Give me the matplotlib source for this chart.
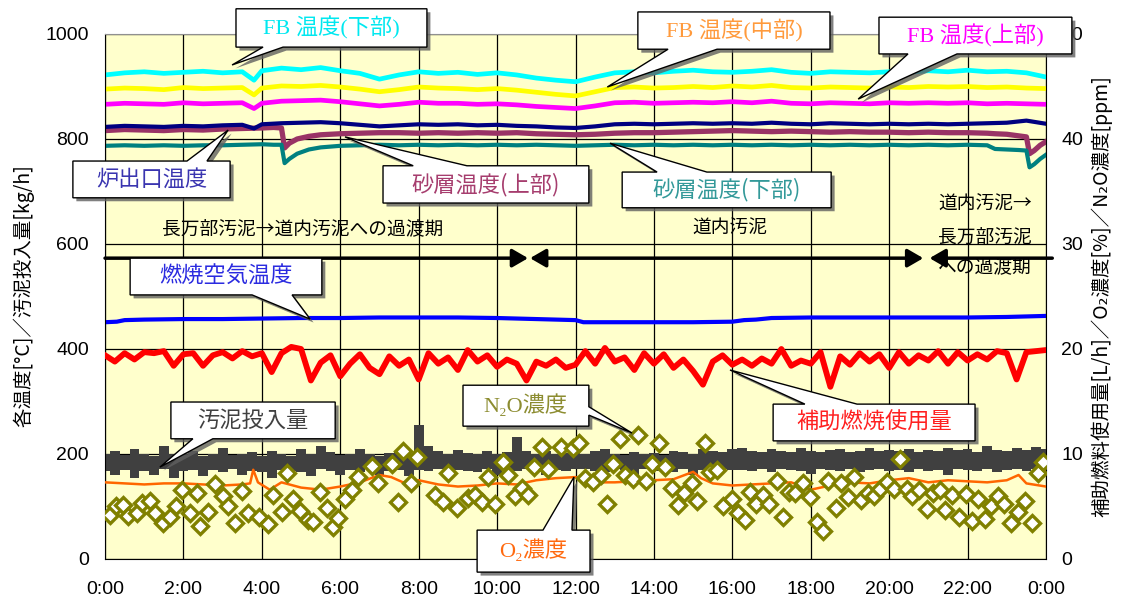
import numpy as np
import matplotlib
matplotlib.use('Agg')
import matplotlib.pyplot as plt
import matplotlib.patheffects as pe
from matplotlib.patches import Polygon

plt.rcParams['font.family'] = ['Liberation Sans', 'Noto Sans CJK JP', 'DejaVu Sans']
JP = ['Noto Sans CJK JP', 'DejaVu Sans']
SERIF_JP = ['Liberation Serif', 'Noto Sans CJK JP', 'DejaVu Sans']

# ---- data (hours from 0:00, left axis degC / kg/h, right axis L/h, %, ppm) ----
t_fb = [0, 0.5, 1, 1.5, 2, 2.5, 3, 3.5, 3.8, 4, 4.5, 5, 5.5, 6, 6.5, 7, 7.5, 8, 8.5, 9, 9.5,
        10, 10.5, 11, 11.5, 12, 12.5, 13, 13.5, 14, 14.5, 15, 15.5, 16, 16.5, 17, 17.5,
        18, 18.5, 19, 19.5, 20, 20.5, 21, 21.5, 22, 22.5, 23, 23.5, 24]
fb_lower = [922, 926, 928, 925, 927, 929, 926, 928, 912, 930, 935, 932, 936, 930, 925, 914, 922,
            928, 925, 927, 923, 926, 922, 916, 912, 909, 918, 926, 928, 926, 929, 931, 928, 927,
            929, 932, 927, 925, 928, 927, 926, 928, 927, 930, 928, 931, 928, 929, 926, 918]
fb_middle = [895, 897, 896, 894, 898, 896, 897, 898, 884, 897, 901, 900, 902, 899, 895, 890, 894,
             899, 897, 896, 894, 896, 893, 889, 885, 882, 890, 898, 899, 897, 898, 900, 898, 901,
             899, 902, 898, 897, 899, 898, 897, 899, 898, 900, 899, 900, 898, 899, 897, 896]
fb_upper = [866, 868, 867, 866, 869, 867, 868, 869, 858, 868, 872, 873, 874, 871, 867, 863, 866,
            870, 868, 868, 866, 867, 865, 862, 860, 858, 863, 869, 870, 868, 869, 870, 869, 871,
            869, 872, 868, 867, 869, 868, 867, 869, 868, 869, 868, 869, 867, 868, 867, 866]
furnace_out = [823, 825, 824, 823, 825, 824, 826, 827, 820, 828, 830, 831, 832, 830, 827, 824, 826,
               828, 827, 828, 826, 827, 825, 824, 822, 821, 824, 828, 829, 828, 829, 830, 829, 830,
               829, 831, 829, 828, 830, 829, 828, 829, 828, 829, 828, 829, 830, 831, 835, 829]

t_sand = [0, 0.5, 1, 1.5, 2, 2.5, 3, 3.5, 4, 4.3, 4.5, 4.58, 4.7, 4.9, 5.2, 5.5,
          6, 6.5, 7, 7.5, 8, 8.5, 9, 9.5, 10, 10.5, 11, 11.5, 12, 12.5, 13, 13.5, 14, 14.5,
          15, 15.5, 16, 16.5, 17, 17.5, 18, 18.5, 19, 19.5, 20, 20.5, 21, 21.5, 22, 22.5,
          22.7, 23, 23.3, 23.5, 23.58, 23.7, 23.85, 24]
sand_upper = [816, 818, 817, 816, 818, 817, 819, 820, 821, 822, 821, 783, 792, 800, 805, 808,
              810, 811, 812, 812, 811, 812, 811, 812, 811, 812, 810, 809, 808, 809, 811, 812, 812, 813,
              814, 815, 816, 815, 814, 815, 814, 813, 814, 813, 813, 812, 813, 812, 812, 811,
              810, 809, 806, 804, 772, 778, 788, 795]
sand_lower = [787, 788, 787, 788, 787, 788, 788, 789, 790, 789, 789, 754, 762, 772, 780, 784,
              787, 788, 789, 788, 789, 788, 789, 788, 789, 788, 789, 788, 787, 788, 789, 788, 789, 788,
              789, 788, 789, 788, 789, 788, 789, 788, 789, 788, 789, 788, 789, 788, 789, 788,
              781, 780, 779, 778, 746, 752, 762, 770]

t_air = [0, 0.3, 0.5, 1, 2, 3, 4, 5, 6, 7, 8, 9, 10, 10.5, 11, 11.5, 12, 12.2, 13, 14, 15, 16,
         16.3, 16.6, 17, 18, 19, 20, 21, 22, 23, 24]
air_temp = [451, 452, 455, 456, 457, 457, 458, 459, 459, 460, 460, 460, 459, 458, 457, 456, 455,
            451, 451, 451, 451, 452, 455, 456, 459, 460, 460, 460, 460, 460, 461, 463]

# 15-minute samples
t_q = np.linspace(0, 24, 97)
fuel = [19.4, 18.8, 19.6, 19.0, 19.7, 19.6, 19.8, 18.4, 19.5, 19.6, 18.4, 19.4, 19.7, 19.1, 19.8, 19.3,
        19.6, 17.8, 19.6, 20.2, 20.0, 17.0, 18.7, 19.4, 17.4, 18.6, 19.5, 18.2, 17.6, 19.3, 18.4, 19.0,
        17.1, 19.6, 18.6, 19.2, 18.0, 19.9, 18.8, 19.4, 18.3, 19.0, 18.6, 17.0, 18.8, 18.4, 19.0, 18.2,
        18.5, 19.8, 18.6, 20.1, 18.8, 19.2, 18.0, 19.6, 18.6, 19.5, 18.2, 19.0, 17.9, 16.6, 18.8, 19.4,
        18.5, 19.0, 18.4, 19.1, 18.6, 20.0, 18.4, 18.9, 18.6, 19.7, 16.4, 19.3, 18.5, 19.6, 18.8, 19.5,
        18.2, 19.7, 18.6, 19.4, 18.9, 19.8, 18.6, 19.7, 18.9, 19.5, 19.0, 19.8, 19.6, 17.1, 19.7, 19.8,
        19.9]
sludge_hi = [200, 205, 198, 210, 200, 196, 215, 200, 198, 205, 196, 200, 212, 198, 200, 203, 196,
             206, 200, 197, 210, 200, 215, 204, 198, 200, 210, 200, 196, 202, 206, 200, 255,
             215, 205, 200, 208, 202, 200, 206, 200, 203, 232, 205, 200, 206, 200, 202, 204,
             200, 205, 210, 200, 198, 204, 200, 202, 198, 206, 204, 200, 210, 205, 203, 210,
             212, 206, 204, 210, 206, 203, 212, 206, 204, 208, 210, 204, 206, 212, 205, 208,
             206, 210, 204, 208, 206, 212, 208, 210, 204, 215, 208, 206, 212, 208, 214, 210]
sludge_lo = [168, 160, 170, 155, 168, 160, 172, 155, 168, 170, 158, 170, 165, 172, 160, 168, 165,
             155, 170, 168, 165, 158, 172, 168, 160, 170, 165, 172, 160, 168, 170, 158, 170,
             168, 172, 160, 170, 168, 165, 172, 160, 170, 168, 172, 165, 160, 170, 168, 172,
             172, 168, 165, 172, 170, 160, 172, 168, 170, 165, 172, 160, 170, 168, 172, 170,
             170, 168, 172, 165, 172, 170, 168, 162, 172, 170, 168, 172, 165, 170, 172, 168,
             170, 165, 172, 168, 170, 160, 172, 170, 168, 172, 165, 170, 172, 168, 172, 175]

t_o2 = [0, 0.5, 1, 1.5, 2, 2.5, 3, 3.5, 3.7, 3.78, 3.9, 4.2, 4.5, 5, 5.5, 6, 6.5, 7, 7.3, 7.6,
        8, 8.5, 9, 9.5, 10, 10.5, 11, 11.5, 12, 12.5, 13, 13.5, 14, 14.5, 15, 15.2, 15.5, 16,
        16.5, 17, 17.5, 18, 18.5, 19, 19.5, 20, 20.5, 21, 21.5, 22, 22.5, 23, 23.3, 23.5, 24]
o2 = [7.3, 7.2, 7.1, 7.2, 7.2, 7.1, 7.0, 7.1, 7.2, 8.5, 7.3, 6.6, 7.3, 6.8, 6.6, 6.9, 7.3, 8.0,
      7.8, 7.3, 7.5, 7.1, 6.9, 7.0, 7.2, 7.1, 7.5, 7.7, 7.8, 7.3, 7.3, 7.4, 7.5, 7.6, 8.3, 7.7,
      7.2, 7.0, 7.1, 7.2, 7.3, 6.6, 7.0, 7.3, 7.2, 7.5, 7.7, 7.3, 7.5, 7.4, 7.3, 7.5, 8.0, 7.2, 6.9]

t_n2o = [0.13, 0.28, 0.46, 0.59, 0.82, 0.94, 1.15, 1.28, 1.48, 1.66, 1.81, 1.96, 2.17, 2.35, 2.42,
         2.63, 2.81, 3.01, 3.14, 3.32, 3.49, 3.65, 3.93, 4.16, 4.29, 4.52, 4.64, 4.80, 4.97, 5.18,
         5.31, 5.48, 5.66, 5.82, 5.94,
         6.12, 6.30, 6.45, 6.81, 6.96, 7.32, 7.47, 7.60, 7.81, 7.96, 8.42, 8.62, 8.75, 8.98, 9.26,
         9.44, 9.62, 9.77, 9.95, 10.15, 10.28, 10.46, 10.64, 10.79, 10.94, 11.15, 11.30, 11.63,
         11.94, 12.09, 12.24, 12.45, 12.65, 12.81, 12.96, 13.14, 13.27, 13.47, 13.60, 13.80, 13.95,
         14.13, 14.29, 14.46, 14.62, 14.77, 14.97, 15.10, 15.31, 15.43, 15.61, 15.77, 16.0, 16.15,
         16.33, 16.45, 16.61, 16.79, 16.94, 17.14, 17.30, 17.45, 17.60, 17.81,
         17.98, 18.16, 18.32, 18.44, 18.65, 18.78, 18.95, 19.11, 19.29, 19.46, 19.62, 19.77, 19.95,
         20.13, 20.28, 20.46, 20.59, 20.77, 20.97, 21.12, 21.30, 21.43, 21.61, 21.79, 21.96, 22.12,
         22.27, 22.45, 22.60, 22.78, 22.93, 23.11, 23.29, 23.47, 23.65, 23.80, 23.93]
n2o = [4.2, 5.0, 5.1, 4.1, 4.4, 5.3, 5.5, 4.4, 3.4, 4.0, 5.0, 6.6, 4.4, 6.3, 3.1, 4.5, 7.1, 6.0,
       5.0, 3.4, 6.5, 4.4, 4.0, 3.3, 6.1, 4.5, 8.2, 5.7, 4.6, 3.7, 3.5, 6.4, 4.9, 3.0, 3.9,
       5.7, 6.6, 7.8, 8.9, 7.2, 9.0, 5.4, 10.3, 7.2, 9.7, 6.1, 5.4, 8.2, 4.9, 5.8, 6.1, 5.4, 7.8,
       5.2, 9.2, 8.0, 6.0, 6.8, 6.1, 8.8, 10.7, 8.6, 10.7,
       10.6, 11.0, 7.7, 7.3, 8.0, 5.2, 9.0, 11.4, 8.0, 7.6, 11.8, 7.4, 9.0, 11.0, 8.8, 6.8, 5.1,
       6.3, 7.2, 5.5, 11.0, 8.3, 8.5, 5.0, 5.7, 4.4, 3.7, 6.4, 5.2, 6.1, 5.2, 7.4, 4.0, 6.4, 6.3, 7.2,
       5.9, 3.5, 2.7, 7.4, 4.9, 7.2, 5.9, 7.8, 5.6, 6.3, 6.0, 6.7, 7.3, 6.7, 9.5, 6.7, 6.0, 6.6,
       4.8, 6.3, 6.6, 4.7, 6.1, 4.0, 6.2, 3.6, 5.7, 3.8, 5.0, 6.0, 5.2, 3.4, 4.5, 5.5, 3.4, 8.2, 9.2]

xtick_labels = ['0:00', '2:00', '4:00', '6:00', '8:00', '10:00', '12:00', '14:00', '16:00',
                '18:00', '20:00', '22:00', '0:00']

# ---- figure ----
fig = plt.figure(figsize=(11.21, 6.08), dpi=100)
ax = fig.add_axes([0.0937, 0.0806, 0.8394, 0.8635])
ax.set_facecolor('#FFFFCC')
ax.set_axisbelow(True)
ax2 = ax.twinx()

ax.plot(t_fb, fb_lower, color='#00FFFF', lw=3.4)
ax.plot(t_fb, fb_middle, color='#FFFF00', lw=3.4)
ax.plot(t_fb, fb_upper, color='#FF00FF', lw=3.4)
ax.plot(t_sand, sand_upper, color='#993366', lw=3.8)
ax.plot(t_sand, sand_lower, color='#008080', lw=3.0)
ax.plot(t_fb, furnace_out, color='#000080', lw=3.0)
ax.plot(t_air, air_temp, color='#0000FF', lw=3.0)
ax.fill_between(t_q, sludge_lo, sludge_hi, step='mid', color='#404040', lw=0)

ax2.plot(t_q, fuel, color='#FF0000', lw=4.2)
ax2.plot(t_o2, o2, color='#FF6600', lw=1.8)
ax2.plot(t_n2o, n2o, ls='none', marker='D', ms=8.5, mfc='white', mec='#808000', mew=2.4)

ax.set_xlim(0, 24)
ax.set_ylim(0, 1000)
ax2.set_ylim(0, 50)
ax.set_xticks(np.arange(0, 25, 2))
ax.set_xticklabels(xtick_labels)
ax.set_yticks(np.arange(0, 1001, 200))
ax2.set_yticks(np.arange(0, 51, 10))
ax.grid(True, color='black', lw=0.9)
ax.tick_params(axis='y', length=0, labelsize=14, pad=11.5)
ax.tick_params(axis='x', length=0, labelsize=14, pad=16)
ax2.tick_params(axis='y', length=0, labelsize=14, pad=11)
for s in ax.spines.values():
    s.set_color('black')
ax.spines['top'].set_color('#909090')
for s in ax2.spines.values():
    s.set_visible(False)

fig.text(0.021, 0.513, '各温度[°C]／汚泥投入量[kg/h]', rotation=90, ha='center', va='center',
         fontsize=14, family=JP)
fig.text(0.983, 0.513, '補助燃料使用量[L/h]／O₂濃度[%]／N₂O濃度[ppm]', rotation=90,
         ha='center', va='center', fontsize=14, family=JP)

# period labels and arrows
ax.text(1.45, 630, '長万部汚泥→道内汚泥への過渡期', ha='left', va='center', fontsize=13.5, family=JP)
ax.text(14.97, 630, '道内汚泥', ha='left', va='center', fontsize=13.5, family=JP)
for yy, s in [(676, '道内汚泥→'), (613, '長万部汚泥'), (554, 'への過渡期')]:
    ax.text(21.25, yy, s, ha='left', va='center', fontsize=13.5, family=JP)

arrow_kw = dict(color='black', lw=2.5, shrinkA=0, shrinkB=0, mutation_scale=10)
ax.annotate('', xy=(10.79, 573), xytext=(0, 573), annotation_clip=False,
            arrowprops=dict(arrowstyle='-|>,head_length=0.95,head_width=0.55', **arrow_kw))
ax.annotate('', xy=(20.87, 573), xytext=(10.84, 573), annotation_clip=False,
            arrowprops=dict(arrowstyle='<|-|>,head_length=0.95,head_width=0.55', **arrow_kw))
ax.annotate('', xy=(21.03, 573), xytext=(24.16, 573), annotation_clip=False,
            arrowprops=dict(arrowstyle='-|>,head_length=0.95,head_width=0.55', **arrow_kw))


def callout(text, color, box, side, base, tip, family=JP):
    x0, x1, yb, yt = box
    b0, b1 = base
    if side == 'bottom':
        verts = [(x0, yt), (x1, yt), (x1, yb), (b1, yb), tip, (b0, yb), (x0, yb)]
    elif side == 'top':
        verts = [(x0, yb), (x0, yt), (b0, yt), tip, (b1, yt), (x1, yt), (x1, yb)]
    else:  # right side, base given as (upper, lower) values
        verts = [(x0, yb), (x0, yt), (x1, yt), (x1, b0), tip, (x1, b1), (x1, yb)]
    poly = Polygon(verts, closed=True, facecolor='white', edgecolor='black', lw=1.0,
                   transform=ax.transData, clip_on=False, zorder=10)
    poly.set_path_effects([pe.SimplePatchShadow(offset=(2.5, -2.5), shadow_rgbFace='#606060',
                                                alpha=0.8), pe.Normal()])
    ax2.add_artist(poly)
    ax2.text((x0 + x1) / 2, (yb + yt) / 2, text, color=color, ha='center', va='center',
             fontsize=16, family=family, transform=ax.transData, clip_on=False, zorder=11)


callout('FB 温度(下部)', '#00E8F0', (3.34, 8.21, 975, 1048), 'bottom', (4.03, 4.54), (3.24, 941), SERIF_JP)
callout('FB 温度(中部)', '#FF9A3C', (13.59, 18.49, 971, 1042), 'bottom', (14.36, 15.61), (12.81, 899), SERIF_JP)
callout('FB 温度(上部)', '#FF00FF', (19.74, 24.66, 962, 1032), 'bottom', (20.48, 21.73), (19.21, 876), SERIF_JP)
callout('炉出口温度', '#3A35B0', (-0.82, 3.19, 688, 758), 'top', (2.09, 2.60), (3.14, 817))
callout('砂層温度(上部)', '#A63D6E', (7.09, 12.34, 678, 749), 'top', (7.86, 9.23), (6.12, 804))
callout('砂層温度(下部)', '#339999', (13.19, 18.52, 669, 737), 'top', (14.08, 15.35), (12.88, 792))
callout('燃焼空気温度', '#2B2BE0', (0.64, 5.53, 503, 573), 'bottom', (3.75, 4.77), (5.23, 457))
callout('汚泥投入量', '#404040', (1.68, 5.87, 229, 299), 'bottom', (2.24, 2.75), (1.40, 175))
callout('N₂O濃度', '#8C8C30', (9.13, 12.34, 253, 331), 'right', (290, 274), (13.44, 240), SERIF_JP)
callout('O₂濃度', '#FF6A10', (9.49, 12.37, -25, 55), 'top', (11.17, 11.91), (11.96, 156), SERIF_JP)
callout('補助燃焼使用量', '#FF2020', (17.04, 22.19, 225, 295), 'top', (17.85, 19.18), (15.94, 360))

fig.savefig('out.png', dpi=100)
